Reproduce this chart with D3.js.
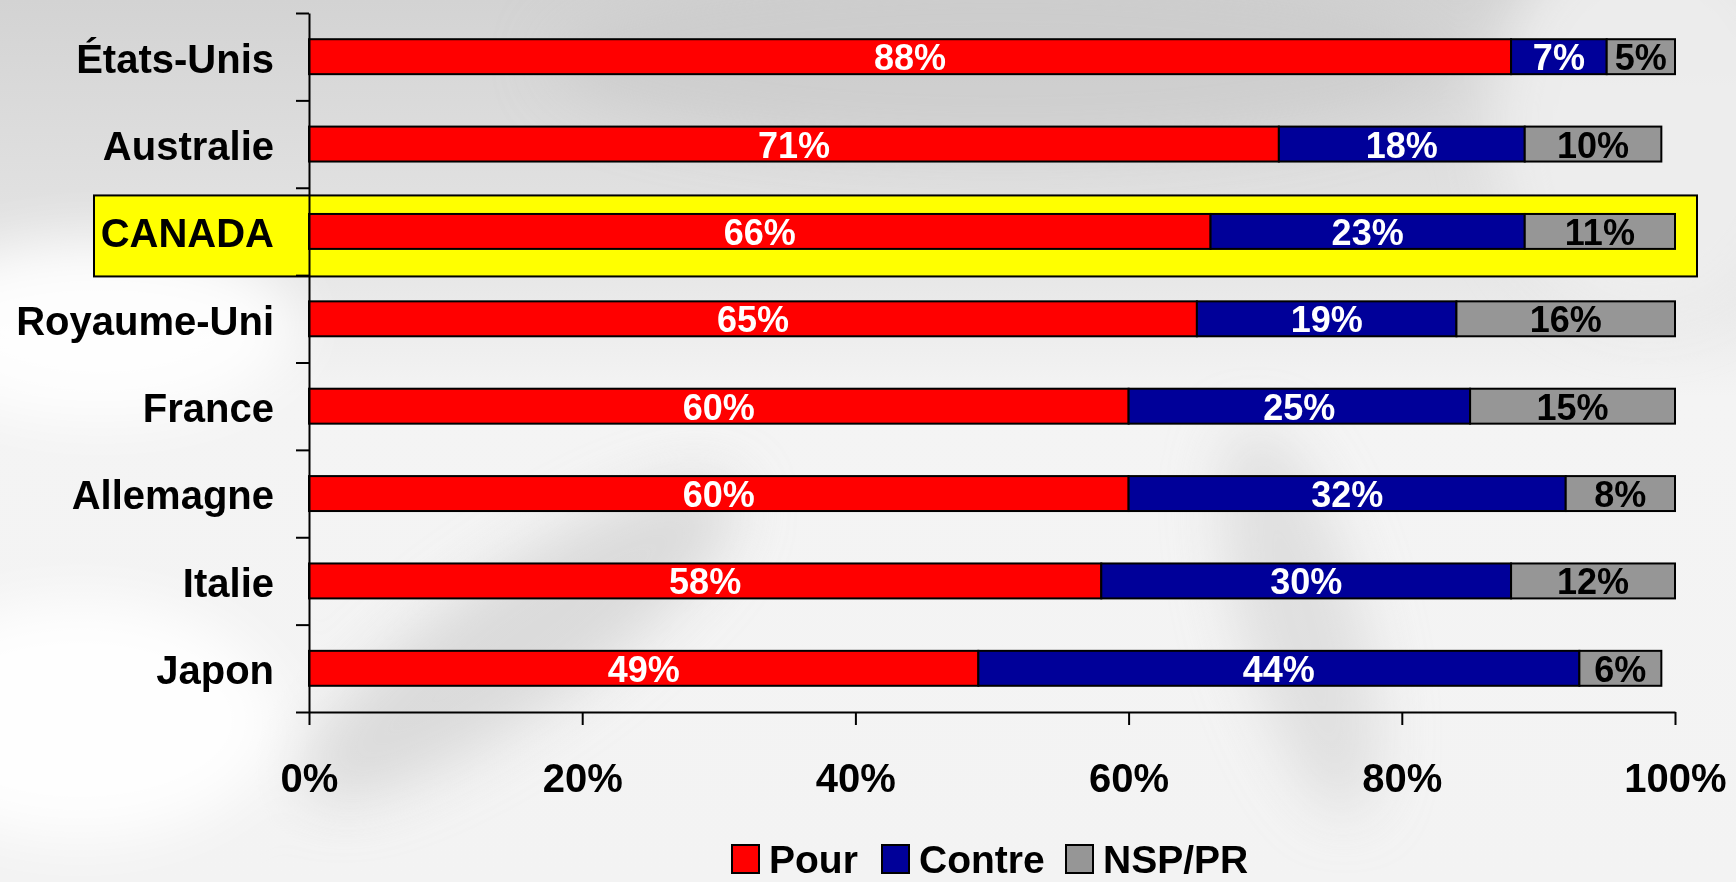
<!DOCTYPE html>
<html>
<head>
<meta charset="utf-8">
<script src="https://cdn.jsdelivr.net/npm/d3@7"></script>
<style>
  html, body { margin: 0; padding: 0; background: #ffffff; }
  svg { display: block; }
  text { font-family: "Liberation Sans", Arial, sans-serif; font-weight: bold; }
</style>
</head>
<body>
<svg id="chart" width="1736" height="882"></svg>
<script>
// ---- data ----
const categories = ["États-Unis", "Australie", "CANADA", "Royaume-Uni", "France", "Allemagne", "Italie", "Japon"];
const seriesNames = ["Pour", "Contre", "NSP/PR"];
const pour   = [88, 71, 66, 65, 60, 60, 58, 49];
const contre = [7, 18, 23, 19, 25, 32, 30, 44];
const nsp    = [5, 10, 11, 16, 15, 8, 12, 6];
const xTicks = [0, 20, 40, 60, 80, 100];
const highlighted = "CANADA";

const colors = ["#ff0000", "#000099", "#969696"];
const labelColors = ["#ffffff", "#ffffff", "#000000"];

const W = 1736, H = 882;
const margin = { left: 309, right: 61, top: 13, bottom: 170 };
const svg = d3.select("#chart");

// ---- background ----
const defs = svg.append("defs");
const bg = defs.append("linearGradient").attr("id", "bg").attr("x1", 0).attr("y1", 0).attr("x2", 0).attr("y2", 1);
bg.append("stop").attr("offset", "0").attr("stop-color", "#d3d3d3");
bg.append("stop").attr("offset", "0.28").attr("stop-color", "#e4e4e4");
bg.append("stop").attr("offset", "0.45").attr("stop-color", "#f4f4f4");
bg.append("stop").attr("offset", "1").attr("stop-color", "#f3f3f3");
defs.append("filter").attr("id", "blur").attr("x", "-50%").attr("y", "-50%").attr("width", "200%").attr("height", "200%")
  .append("feGaussianBlur").attr("stdDeviation", 28);
svg.append("rect").attr("width", W).attr("height", H).attr("fill", "url(#bg)");
const blobs = svg.append("g").attr("filter", "url(#blur)");
blobs.append("ellipse").attr("cx", 100).attr("cy", 330).attr("rx", 200).attr("ry", 90).attr("fill", "#ffffff").attr("opacity", 0.9);
blobs.append("ellipse").attr("cx", 1000).attr("cy", 60).attr("rx", 450).attr("ry", 90).attr("fill", "#c8c8c8").attr("opacity", 0.6);
blobs.append("ellipse").attr("cx", 1650).attr("cy", 120).attr("rx", 160).attr("ry", 200).attr("fill", "#eeeeee").attr("opacity", 0.9);
blobs.append("ellipse").attr("cx", 520).attr("cy", 640).attr("rx", 260).attr("ry", 70).attr("fill", "#d0d0d0").attr("opacity", 0.7)
  .attr("transform", "rotate(-35 520 640)");
blobs.append("ellipse").attr("cx", 1300).attr("cy", 620).attr("rx", 60).attr("ry", 200).attr("fill", "#d2d2d2").attr("opacity", 0.6)
  .attr("transform", "rotate(-15 1300 620)");
blobs.append("ellipse").attr("cx", 80).attr("cy", 720).attr("rx", 200).attr("ry", 120).attr("fill", "#ffffff").attr("opacity", 0.9);

// ---- scales ----
const x = d3.scaleLinear().domain([0, 100]).range([margin.left, W - margin.right]);
const y = d3.scaleBand().domain(categories).range([margin.top, H - margin.bottom]).paddingInner(0.6).paddingOuter(0.3);

// ---- highlight box ----
const hy = y(highlighted) + y.bandwidth() / 2;
svg.append("rect")
  .attr("x", 94).attr("y", hy - 36)
  .attr("width", x(100) + 22 - 94).attr("height", 81)
  .attr("fill", "#ffff00").attr("stroke", "#000").attr("stroke-width", 2);

// ---- stacked data ----
const rows = categories.map((c, i) => ({ cat: c, Pour: pour[i], Contre: contre[i], "NSP/PR": nsp[i] }));
const stack = d3.stack().keys(seriesNames)(rows);

const layers = svg.append("g").selectAll("g").data(stack).join("g")
  .attr("fill", (d, i) => colors[i]);
layers.selectAll("rect").data(d => d).join("rect")
  .attr("x", d => x(d[0]))
  .attr("y", d => y(d.data.cat))
  .attr("width", d => x(d[1]) - x(d[0]))
  .attr("height", y.bandwidth())
  .attr("stroke", "#000").attr("stroke-width", 2);

// value labels
const labels = svg.append("g").selectAll("g").data(stack).join("g")
  .attr("fill", (d, i) => labelColors[i]);
labels.selectAll("text").data(d => d).join("text")
  .attr("x", d => (x(d[0]) + x(d[1])) / 2)
  .attr("y", d => y(d.data.cat) + y.bandwidth() / 2 + 1)
  .attr("text-anchor", "middle")
  .attr("dominant-baseline", "central")
  .attr("font-size", 36)
  .text(d => (d[1] - d[0]) + "%");

// ---- axes ----
// category labels
const yAxis = svg.append("g").attr("transform", `translate(${margin.left},3)`)
  .call(d3.axisLeft(y).tickSize(0).tickPadding(35));
yAxis.select(".domain").remove();
yAxis.selectAll("text").attr("font-size", 40).attr("fill", "#000")
  .attr("font-family", "Liberation Sans, Arial, sans-serif").attr("font-weight", "bold");

// y boundary ticks and axis line
const boundary = d3.scaleLinear().domain([0, categories.length]).range([margin.top, H - margin.bottom]);
const yTicks = svg.append("g").attr("transform", `translate(${margin.left},0)`)
  .call(d3.axisLeft(boundary).tickValues(d3.range(categories.length + 1)).tickSize(13).tickSizeOuter(0).tickFormat(""));
yTicks.selectAll("line,path").attr("stroke", "#000").attr("stroke-width", 2);

// x axis
const xAxis = svg.append("g").attr("transform", `translate(0,${H - margin.bottom})`)
  .call(d3.axisBottom(x).tickValues(xTicks).tickSize(13).tickSizeOuter(0).tickPadding(39).tickFormat(d => d + "%"));
xAxis.selectAll("line,path").attr("stroke", "#000").attr("stroke-width", 2);
xAxis.selectAll("text").attr("font-size", 40).attr("fill", "#000")
  .attr("font-family", "Liberation Sans, Arial, sans-serif").attr("font-weight", "bold");

// ---- legend ----
const legendX = [732, 882, 1066];
const legend = svg.append("g").selectAll("g").data(seriesNames).join("g")
  .attr("transform", (d, i) => `translate(${legendX[i]},845)`);
legend.append("rect").attr("width", 27).attr("height", 28)
  .attr("fill", (d, i) => colors[i]).attr("stroke", "#000").attr("stroke-width", 2);
legend.append("text").attr("x", 37).attr("y", 28)
  .attr("font-size", 39).attr("fill", "#000").text(d => d);
</script>
</body>
</html>
